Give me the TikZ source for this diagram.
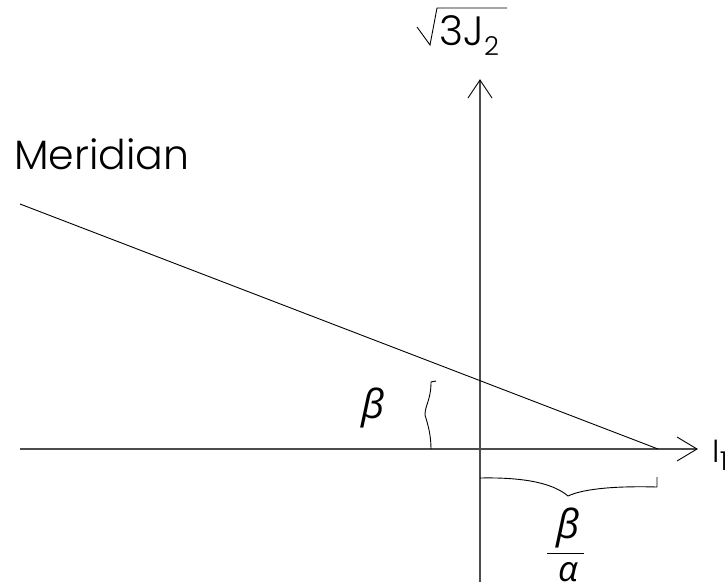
\documentclass[tikz,border=0pt]{standalone}
\usepackage{fontspec}
\setmainfont{Poppins Light}
\newfontfamily\grk{Open Sans}
\begin{document}
\begin{tikzpicture}[x=1pt,y=-1pt,
  axis/.style={draw=black!70,line width=1.3pt},
  thin/.style={draw=black,line width=0.9pt},
  vhead/.style={draw=black,line width=0.9pt},
  lbl/.style={inner sep=0pt,font=\fontsize{41}{43}\selectfont},
  sub/.style={inner sep=0pt,font=\fontsize{26}{28}\selectfont},
  gk/.style={inner sep=0pt,font=\fontsize{40}{42}\selectfont\grk\itshape}]
\useasboundingbox (0,0) rectangle (725,586);
% axes
\coordinate (O) at (480,449);
\coordinate (XL) at (20,449);
\coordinate (XR) at (697,449);
\coordinate (YT) at (480,80);
\coordinate (YB) at (480,582);
\draw[axis] (XL) -- (XR);
\draw[axis] (YB) -- (YT);
\draw[vhead] (677,437) -- (XR) -- (677,461);
\draw[vhead] (468,98) -- (YT) -- (492,98);
% meridian
\coordinate (M1) at (20,204);
\coordinate (M2) at (658,449);
\draw[thin] (M1) -- (M2);
% angle brace
\coordinate (B1) at (436,381);
\coordinate (B2) at (431,382);
\coordinate (Bt) at (425,415);
\coordinate (B3) at (431,449);
\draw[thin] (B1) -- (B2) .. controls (431,400) and (425,405) .. (Bt)
  .. controls (428,425) and (431,435) .. (B3);
% bottom brace
\coordinate (C1) at (480,478);
\coordinate (Ct) at (568,496);
\coordinate (C2) at (657,487);
\coordinate (C3) at (657,477);
\draw[thin] (C1) .. controls (530,477) and (555,485) .. (Ct)
  .. controls (585,488) and (620,486) .. (C2) -- (C3);
% labels
\node[lbl,anchor=base west] (mer) at (14,169) {Meridian};
% sqrt(3J2)
\coordinate (R1) at (417,27);
\coordinate (R2) at (430,45);
\coordinate (R3) at (437,8);
\coordinate (R4) at (507,8);
\draw[thin] (R1) -- (R2) -- (R3) -- (R4);
\node[lbl,anchor=base west] (yl) at (439,46) {3J};
\node[sub,anchor=base west] (ys) at (yl.base east) [yshift=-10pt] {2};
% I1
\node[lbl,anchor=base west,font=\fontsize{32}{34}\selectfont] (xl) at (712,462) {I};
\node[sub,anchor=base west] (xs) at (xl.base east) [yshift=-8pt] {1};
% greek
\node[gk,anchor=base] (beta) at (373,418) {β};
\coordinate (F1) at (547,553);
\coordinate (F2) at (584,553);
\draw[thin] (F1) -- (F2);
\node[gk,anchor=base] (fb) at (568,538) {β};
\node[gk,anchor=base,font=\fontsize{35}{37}\selectfont\grk\itshape] (fa) at (568,581) {α};
\end{tikzpicture}
\end{document}
